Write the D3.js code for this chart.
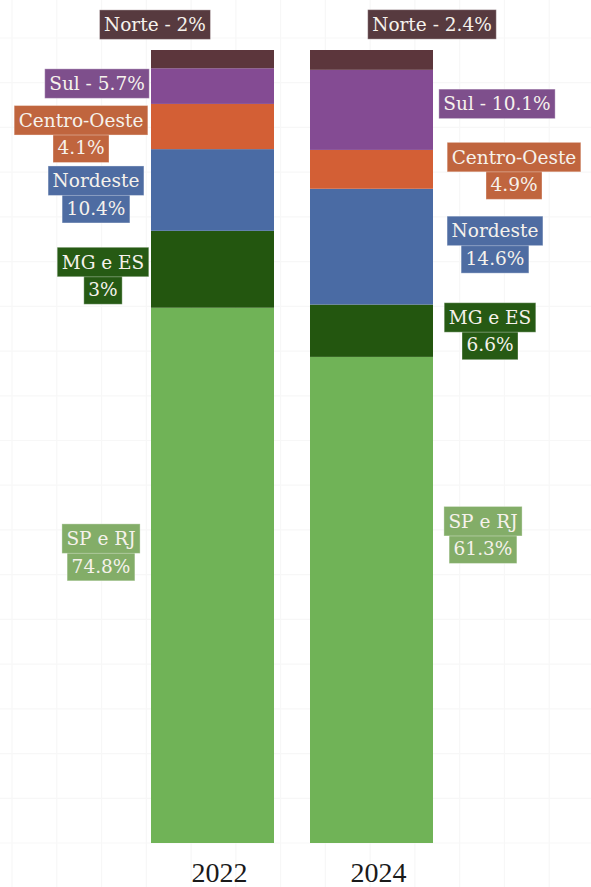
<!DOCTYPE html>
<html>
<head>
<meta charset="utf-8">
<script src="https://cdn.jsdelivr.net/npm/d3@7"></script>
<style>
  body { margin: 0; background: #fff; }
</style>
</head>
<body>
<script>
// dados
const years = ["2022", "2024"];
const regions = ["SP e RJ", "MG e ES", "Nordeste", "Centro-Oeste", "Sul", "Norte"];
// altura das barras
const bar2022 = [67.5, 9.7, 10.3, 5.7, 4.5, 2.3];
const bar2024 = [61.3, 6.6, 14.6, 4.9, 10.1, 2.5];
// valores dos rótulos
const label2022 = [74.8, 3, 10.4, 4.1, 5.7, 2];
const label2024 = [61.3, 6.6, 14.6, 4.9, 10.1, 2.4];
const colors = ["#70b357", "#23560f", "#4a6ba4", "#d35f35", "#844b93", "#5c363c"];
const labelColors = ["#83ad68", "#265a14", "#4e6ca2", "#c0653e", "#7e4f8c", "#573a3f"];

// deslocamento dos rótulos (layout)
const nudge = {
  "2022": [[-111.5, -23], [-109.5, 6.5], [-116.5, 4.5], [-131.5, 7.5], [-115.5, -2.5], [-57.5, -34.5]],
  "2024": [[111.5, -65], [118.5, 0.5], [123.5, -2], [142.5, 1.5], [125.5, -6], [60.5, -35.5]]
};
const singleLine = ["Sul", "Norte"];

const W = 591, H = 887;
const svg = d3.select("body").append("svg")
  .attr("width", W).attr("height", H);

// grade de fundo
const gx = d3.scaleLinear().domain([0, 13]).range([12, 594]);
const gy = d3.scaleLinear().domain([0, 18]).range([843, 38]);
const grid = svg.append("g").attr("stroke", "#f7f7f7").attr("stroke-width", 1.2);
grid.selectAll(".gv").data(d3.range(0, 14)).enter().append("line")
  .attr("x1", d => gx(d)).attr("x2", d => gx(d)).attr("y1", 0).attr("y2", H);
grid.selectAll(".gh").data(d3.range(0, 19)).enter().append("line")
  .attr("y1", d => gy(d)).attr("y2", d => gy(d)).attr("x1", 0).attr("x2", W);

const x = d3.scaleBand().domain(years).range([135.1, 448.9]).paddingInner(0.2264).paddingOuter(0.1);
const y = d3.scaleLinear().domain([0, 100]).range([843, 50]);

const barData = { "2022": bar2022, "2024": bar2024 };
const labData = { "2022": label2022, "2024": label2024 };

years.forEach(yr => {
  const vals = barData[yr];
  const cum = d3.cumsum(vals);
  const segs = regions.map((r, i) => ({ r, i, y0: cum[i] - vals[i], y1: cum[i] }));
  svg.append("g").selectAll("rect").data(segs).enter().append("rect")
    .attr("x", x(yr))
    .attr("width", x.bandwidth())
    .attr("y", d => y(d.y1))
    .attr("height", d => y(d.y0) - y(d.y1))
    .attr("fill", d => colors[d.i]);

  // rótulos
  const cx0 = x(yr) + x.bandwidth() / 2;
  segs.forEach(s => {
    const [dx, dy] = nudge[yr][s.i];
    const cx = cx0 + dx;
    const cy = y((s.y0 + s.y1) / 2) + dy;
    const pct = labData[yr][s.i] + "%";
    const lines = singleLine.includes(s.r) ? [s.r + " - " + pct] : [s.r, pct];
    const lh = 27.5, bh = 29.5;
    const top = cy - (lh * (lines.length - 1) + bh) / 2;
    const g = svg.append("g");
    // desenha a última linha primeiro
    lines.slice().reverse().forEach((t, k) => {
      const li = lines.length - 1 - k;
      const lg = g.append("g");
      const txt = lg.append("text")
        .attr("x", cx)
        .attr("y", top + li * lh + bh / 2)
        .attr("text-anchor", "middle")
        .attr("dominant-baseline", "central")
        .attr("font-family", "DejaVu Serif")
        .attr("font-size", 18.5)
        .attr("fill", "#f6f2ec")
        .text(t);
      const w = txt.node().getComputedTextLength() + 9;
      lg.insert("rect", "text")
        .attr("x", cx - w / 2)
        .attr("y", top + li * lh)
        .attr("width", w)
        .attr("height", bh)
        .attr("fill", labelColors[s.i])
        .attr("stroke", "#ffffff")
        .attr("stroke-opacity", 0.35)
        .attr("stroke-width", 1);
    });
  });

  svg.append("text")
    .attr("x", cx0 + 7)
    .attr("y", 882)
    .attr("text-anchor", "middle")
    .attr("font-family", "Liberation Serif")
    .attr("font-size", 28)
    .attr("fill", "#1a1a1a")
    .text(yr);
});
</script>
</body>
</html>
